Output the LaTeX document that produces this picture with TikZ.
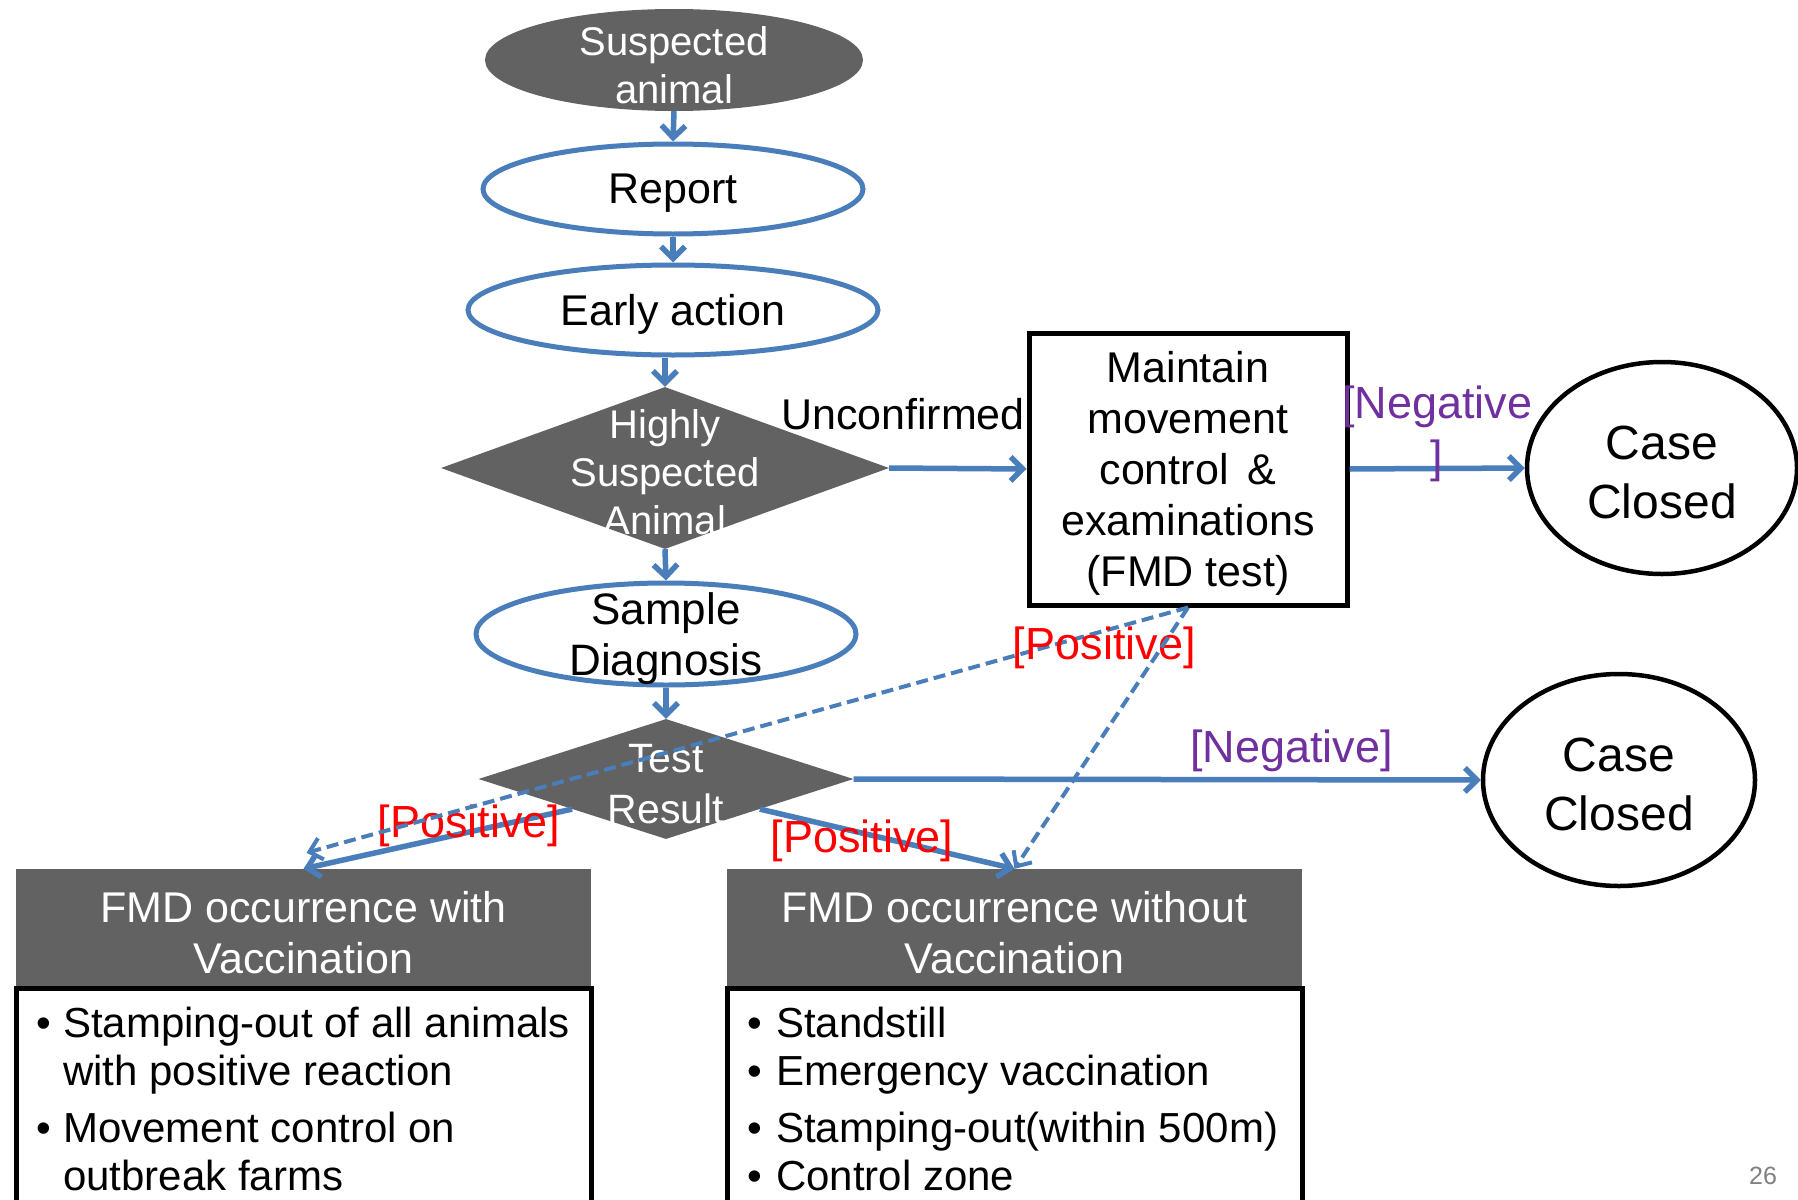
\documentclass[tikz,border=0pt]{standalone}
\usepackage{fontspec}
\setmainfont{Liberation Sans}
\usetikzlibrary{shapes.geometric,arrows.meta}
\definecolor{flowblue}{RGB}{74,126,187}
\definecolor{negpurple}{RGB}{112,48,160}
\definecolor{shadegray}{RGB}{98,98,98}
\definecolor{pagegray}{RGB}{128,128,128}
\begin{document}
\begin{tikzpicture}[x=1pt,y=-1pt,
  blueoval/.style={ellipse, draw=flowblue, line width=5pt, inner sep=0pt},
  grayoval/.style={ellipse, fill=shadegray, inner sep=0pt},
  graydiamond/.style={diamond, fill=shadegray, inner sep=0pt},
  blackbox/.style={rectangle, draw=black, line width=5pt, inner sep=0pt},
  blackoval/.style={ellipse, draw=black, line width=4.5pt, inner sep=0pt},
  grayhead/.style={rectangle, fill=shadegray, inner sep=0pt, minimum width=575pt, minimum height=119pt},
  bodybox/.style={rectangle, draw=black, line width=5pt, inner sep=0pt, minimum width=575pt, minimum height=227pt},
  conn/.style={draw=flowblue, line width=5.5pt, -{Straight Barb[length=12pt,width=24pt]}},
  dashconn/.style={draw=flowblue, line width=4pt, dash pattern=on 12pt off 6pt, -{Straight Barb[length=12pt,width=22pt]}},
  whitetxt/.style={text=white, align=center},
  blacktxt/.style={text=black, align=center},
  pos label/.style={text=red, font=\fontsize{45}{54}\selectfont},
  neg label/.style={text=negpurple, font=\fontsize{45}{54}\selectfont, align=center},
]
\useasboundingbox (0,0) rectangle (1798,1199);
\fill[white] (0,0) rectangle (1798,1199);
\clip (0,0) rectangle (1798,1199);

% left column
\node[grayoval, minimum width=378pt, minimum height=102pt,
  label={[whitetxt, font=\fontsize{40}{48}\selectfont, yshift=-5pt]center:Suspected\\animal}]
  (susp) at (674,60) {};
\node[blueoval, minimum width=380pt, minimum height=90pt,
  label={[blacktxt, font=\fontsize{43}{48}\selectfont, yshift=-4pt]center:Report}]
  (rep) at (673,189) {};
\node[blueoval, minimum width=410pt, minimum height=90pt,
  label={[blacktxt, font=\fontsize{43}{48}\selectfont, yshift=-4pt]center:Early action}]
  (early) at (673,310) {};
\node[graydiamond, minimum width=448pt, minimum height=162pt,
  label={[whitetxt, font=\fontsize{40}{48}\selectfont, yshift=-4pt]center:Highly\\Suspected\\Animal}]
  (hs) at (665,468) {};
\node[blueoval, minimum width=380pt, minimum height=102pt,
  label={[blacktxt, font=\fontsize{44}{51}\selectfont, yshift=-5pt]center:Sample\\Diagnosis}]
  (samp) at (666,634) {};
\node[graydiamond, minimum width=375pt, minimum height=120pt,
  label={[whitetxt, font=\fontsize{41}{51}\selectfont, yshift=-5pt]center:Test\\Result}]
  (tr) at (666,779) {};

% right part
\node[blackbox, minimum width=318pt, minimum height=272pt,
  label={[blacktxt, font=\fontsize{43}{51}\selectfont, yshift=-4pt]center:Maintain\\movement\\control \,\&\\examinations\\(FMD test)}]
  (mbox) at (1188,469) {};
\node[blackoval, minimum width=270pt, minimum height=212pt,
  label={[blacktxt, font=\fontsize{48}{59}\selectfont, yshift=-4pt]center:Case\\Closed}]
  (case1) at (1662,468) {};
\node[blackoval, minimum width=272pt, minimum height=212pt,
  label={[blacktxt, font=\fontsize{48}{59}\selectfont, yshift=-4pt]center:Case\\Closed}]
  (case2) at (1619,780) {};

% bottom boxes
\node[grayhead, label={[whitetxt, font=\fontsize{43}{51}\selectfont, yshift=-4pt]center:FMD occurrence with\\Vaccination}]
  (hw) at (303.5,928.5) {};
\node[bodybox] (bw) at (303.5,1101.5) {};
\node[grayhead, label={[whitetxt, font=\fontsize{43}{51}\selectfont, yshift=-4pt]center:FMD occurrence without\\Vaccination}]
  (hwo) at (1014.5,928.5) {};
\node[bodybox] (bwo) at (1014.5,1101.5) {};

\node[anchor=base west, inner sep=0pt, font=\fontsize{42}{48}\selectfont] (listw) at (36,1037)
  {\begin{tabular}[t]{@{}p{27pt}@{}l@{}}
   • & Stamping-out of all animals\\
     & with positive reaction\\[9pt]
   • & Movement control on\\
     & outbreak farms
   \end{tabular}};
\node[anchor=base west, inner sep=0pt, font=\fontsize{42}{48}\selectfont] (listwo) at (747,1037)
  {\begin{tabular}[t]{@{}p{29pt}@{}l@{}}
   • & Standstill\\
   • & Emergency vaccination\\[9pt]
   • & Stamping-out(within 500m)\\
   • & Control zone
   \end{tabular}};

\node[text=pagegray, font=\fontsize{25}{30}\selectfont] (pgnum) at (1763,1176) {26};

% connectors
\coordinate (hwtop) at ([xshift=3pt,yshift=16pt]hw.north);
\draw[conn] (susp.south) -- (rep.north);
\draw[conn] (rep.south) -- (early.north);
\draw[conn] (early.south -| hs.north) -- (hs.north);
\draw[conn] (hs.south) -- (samp.north);
\draw[conn] (samp.south) -- (tr.north);
\draw[conn] (hs.east) -- node[pos=0.1, anchor=center, yshift=54pt, blacktxt, font=\fontsize{43}{48}\selectfont] (unc) {Unconfirmed} (mbox.west);
\draw[conn] (mbox.east) -- node[neg label, pos=0.5, yshift=35pt] (neg1) {[Negative\\]} (case1.west);
\draw[conn] (tr.east) -- node[neg label, pos=0.698, yshift=29pt] (neg2) {[Negative]} (case2.west);
\draw[conn] (tr.south west) -- node[pos label, pos=0.384, yshift=6pt] (posw) {[Positive]} (hw.north);
\draw[conn] (tr.south east) -- node[pos label, pos=0.401, yshift=-8pt] (poswo) {[Positive]} (hwo.north);
\draw[dashconn] (mbox.south) -- node[pos label, pos=0.095, yshift=-17pt] (posm) {[Positive]} (hwtop);
\draw[dashconn] (mbox.south) -- (hwo.north);
\end{tikzpicture}
\end{document}
